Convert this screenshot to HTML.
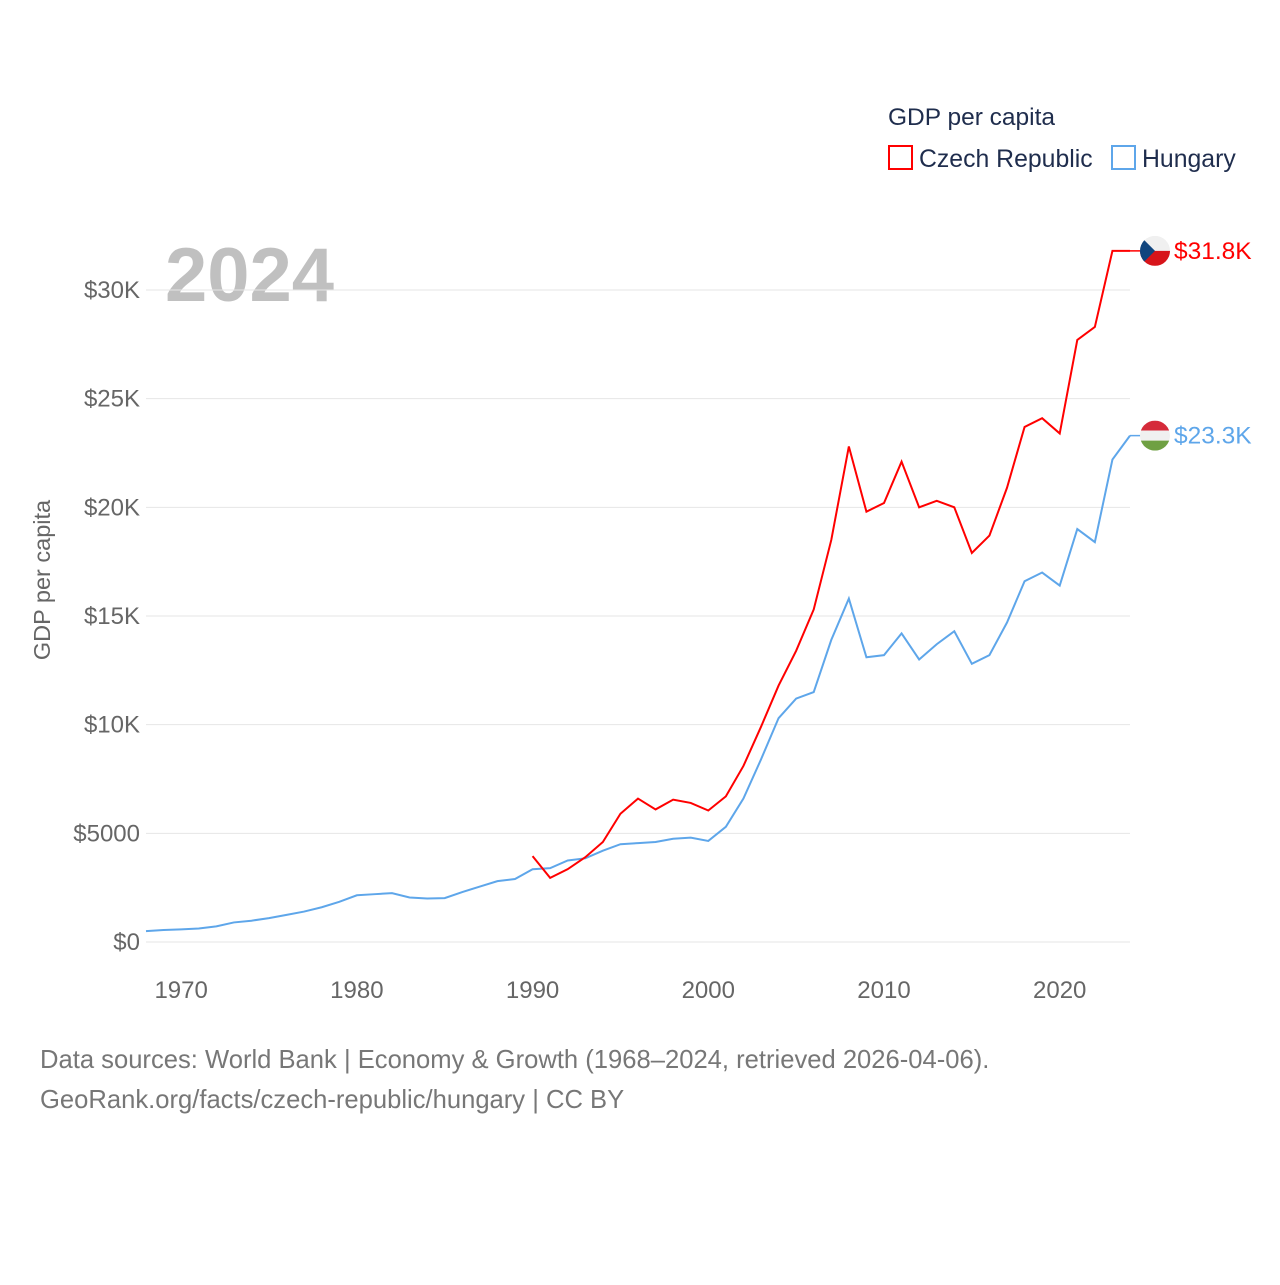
<!DOCTYPE html>
<html><head><meta charset="utf-8"><style>
body{margin:0;background:#fff;font-family:"Liberation Sans",sans-serif}
svg text{font-family:"Liberation Sans",sans-serif}
</style></head><body>
<svg id="chart" width="1280" height="1280" viewBox="0 0 1280 1280">
<text x="888" y="125" font-size="24.5" fill="#1f2d4d">GDP per capita</text>
<rect x="889" y="146" width="23" height="23" fill="none" stroke="#ff0000" stroke-width="2"/>
<text x="919" y="167" font-size="24.8" fill="#1f2d4d">Czech Republic</text>
<rect x="1112" y="146" width="23" height="23" fill="none" stroke="#5ea6ea" stroke-width="2"/>
<text x="1142" y="167" font-size="24.8" fill="#1f2d4d">Hungary</text>
<text x="165" y="301" font-size="76" font-weight="bold" fill="#c0c0c0">2024</text>
<text transform="translate(50,580) rotate(-90)" text-anchor="middle" font-size="23.5" fill="#666">GDP per capita</text>
<g id="grid"></g><g id="xt"></g><g id="lines"></g>
<text x="40" y="1068" font-size="25.6" fill="#777">Data sources: World Bank | Economy &amp; Growth (1968–2024, retrieved 2026-04-06).</text>
<text x="40" y="1108" font-size="25.6" fill="#777">GeoRank.org/facts/czech-republic/hungary | CC BY</text>
</svg>
<script>
const years=[];for(let y=1968;y<=2024;y++)years.push(y);
const hungary=[0.5,0.55,0.58,0.62,0.72,0.9,0.98,1.1,1.25,1.4,1.6,1.85,2.15,2.2,2.25,2.05,2.0,2.02,2.3,2.55,2.8,2.9,3.35,3.4,3.75,3.85,4.2,4.5,4.55,4.6,4.75,4.8,4.65,5.3,6.6,8.4,10.3,11.2,11.5,13.9,15.8,13.1,13.2,14.2,13.0,13.7,14.3,12.8,13.2,14.7,16.6,17.0,16.4,19.0,18.4,22.2,23.3];
const czechStart=1990;
const czech=[3.95,2.95,3.35,3.9,4.6,5.9,6.6,6.1,6.55,6.4,6.05,6.7,8.1,9.9,11.8,13.4,15.3,18.5,22.8,19.8,20.2,22.1,20.0,20.3,20.0,17.9,18.7,20.9,23.7,24.1,23.4,27.7,28.3,31.8,31.8];
const yTicks=[0,5,10,15,20,25,30];
const yTickLabels=["$0","$5000","$10K","$15K","$20K","$25K","$30K"];
const xTicks=[1970,1980,1990,2000,2010,2020];
const NS="http://www.w3.org/2000/svg";
const X=y=>146+(y-1968)*(1130-146)/56;
const Y=v=>942-v*(942-290)/30;
function el(t,a,p){const e=document.createElementNS(NS,t);for(const k in a)e.setAttribute(k,a[k]);document.getElementById(p).appendChild(e);return e;}
yTicks.forEach((v,i)=>{
 const l=el('line',{x1:146,x2:1130,y1:Y(v),y2:Y(v),stroke:'#e6e6e6','stroke-width':1},'grid');
 
 
 const t=el('text',{x:140,y:Y(v)+8,'text-anchor':'end','font-size':24,fill:'#666'},'grid');
 t.textContent=yTickLabels[i];
 
 
});
xTicks.forEach(v=>{
 const t=el('text',{x:X(v),y:998,'text-anchor':'middle','font-size':24,fill:'#666'},'xt');
 t.textContent=v;
 
 
});
const hp=el('path',{d:hungary.map((v,i)=>(i?'L':'M')+X(years[i])+','+Y(v)).join(''),fill:'none',stroke:'#5ea6ea','stroke-width':2},'lines');


const cp=el('path',{d:czech.map((v,i)=>(i?'L':'M')+X(czechStart+i)+','+Y(v)).join(''),fill:'none',stroke:'#ff0000','stroke-width':2},'lines');


function endLabel(v,color,txt,name,flag){
 const y=Y(v);
 el('line',{x1:1130,x2:1145,y1:y,y2:y,stroke:color,'stroke-width':1.5},'lines');
 const g=el('g',{},'lines');
 
 
 const cx=1155,r=15;
 const id='clip'+name;
 const cpth=document.createElementNS(NS,'clipPath');cpth.setAttribute('id',id);
 const cc=document.createElementNS(NS,'circle');cc.setAttribute('cx',cx);cc.setAttribute('cy',y);cc.setAttribute('r',r);cpth.appendChild(cc);g.appendChild(cpth);
 const gi=document.createElementNS(NS,'g');gi.setAttribute('clip-path','url(#'+id+')');g.appendChild(gi);
 const add=(t,a)=>{const e=document.createElementNS(NS,t);for(const k in a)e.setAttribute(k,a[k]);gi.appendChild(e);};
 if(flag==='cz'){add('rect',{x:cx-r,y:y-r,width:2*r,height:r,fill:'#f0f0f0'});add('rect',{x:cx-r,y:y,width:2*r,height:r,fill:'#d7141a'});add('path',{d:`M${cx-r},${y-r}L${cx},${y}L${cx-r},${y+r}Z`,fill:'#11457e'});}
 else{add('rect',{x:cx-r,y:y-r,width:2*r,height:10,fill:'#d52b3a'});add('rect',{x:cx-r,y:y-5,width:2*r,height:10,fill:'#f0f0f0'});add('rect',{x:cx-r,y:y+5,width:2*r,height:10,fill:'#6fa043'});}
 const t=el('text',{x:1174,y:y+8,'font-size':24.5,fill:color},'lines');
 t.textContent=txt;
 
 
}
endLabel(czech[czech.length-1],'#ff0000','$31.8K','czech','cz');
endLabel(hungary[hungary.length-1],'#5ea6ea','$23.3K','hungary','hu');
</script>
</body></html>
